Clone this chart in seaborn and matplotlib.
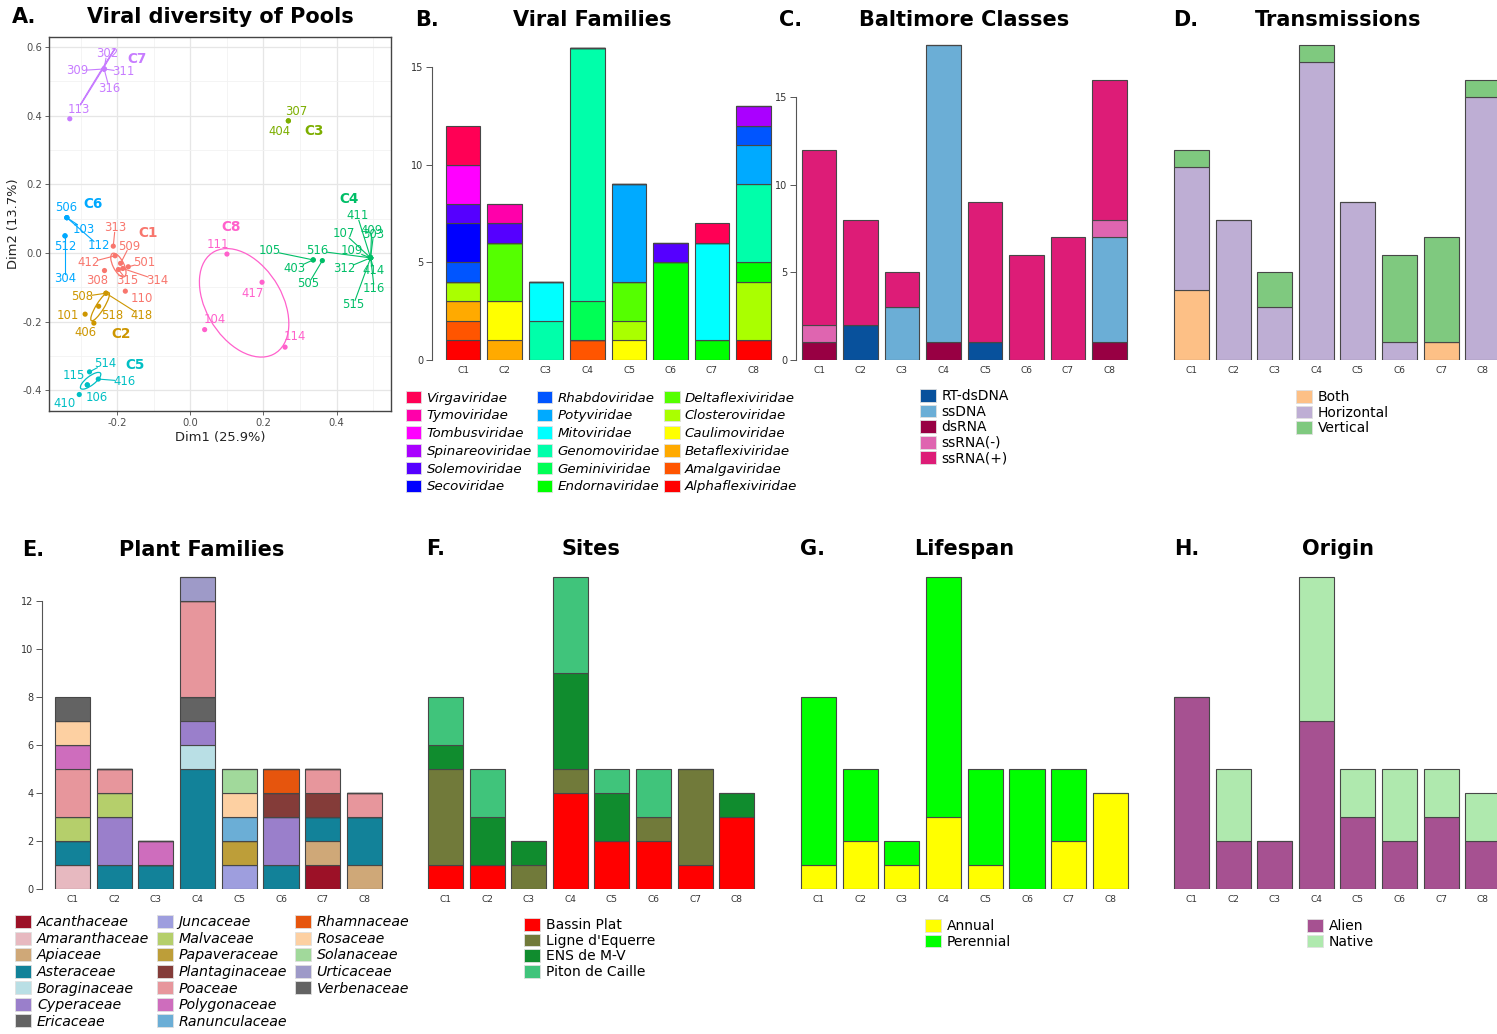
import matplotlib
matplotlib.use("Agg")
import matplotlib.pyplot as plt
from matplotlib.patches import Ellipse, Patch
import numpy as np
import pandas as pd
import seaborn as sns

W, H = 1497, 1034
plt.rcParams['font.family'] = ['DejaVu Sans']

clusters = ['C1', 'C2', 'C3', 'C4', 'C5', 'C6', 'C7', 'C8']
cluster_colors = ['#F8766D', '#CD9600', '#7CAE00', '#00BE67', '#00BFC4', '#00A9FF', '#C77CFF', '#FF61CC']

# ---- A. PCA of pools ----
pool_ids = ['313', '412', '308', '509', '501', '315', '314', '110',
            '508', '101', '518', '406', '418',
            '307', '404',
            '105', '403', '505', '516', '411', '107', '409', '303', '109', '312', '414', '116', '515',
            '514', '416', '115', '106', '410',
            '506', '103', '112', '512', '304',
            '302', '309', '311', '316', '113',
            '111', '417', '104', '114']
pool_cluster = ['C1'] * 8 + ['C2'] * 5 + ['C3'] * 2 + ['C4'] * 13 + ['C5'] * 5 + ['C6'] * 5 + ['C7'] * 5 + ['C8'] * 4
dim1 = [-0.211, -0.206, -0.235, -0.191, -0.170, -0.197, -0.185, -0.178,
        -0.231, -0.288, -0.251, -0.264, -0.231,
        0.268, 0.268,
        0.336, 0.336, 0.361, 0.493, 0.493, 0.493, 0.493, 0.493, 0.493, 0.493, 0.493, 0.493, 0.493,
        -0.276, -0.252, -0.282, -0.282, -0.304,
        -0.338, -0.338, -0.338, -0.343, -0.343,
        -0.236, -0.236, -0.236, -0.236, -0.330,
        0.100, 0.196, 0.039, 0.259]
dim2 = [0.020, -0.008, -0.051, -0.030, -0.040, -0.048, -0.045, -0.111,
        -0.117, -0.178, -0.155, -0.204, -0.117,
        0.385, 0.385,
        -0.020, -0.020, -0.022, -0.014, -0.014, -0.014, -0.014, -0.014, -0.014, -0.014, -0.014, -0.014, -0.014,
        -0.346, -0.367, -0.384, -0.384, -0.412,
        0.103, 0.103, 0.103, 0.050, 0.050,
        0.536, 0.536, 0.536, 0.536, 0.391,
        -0.003, -0.085, -0.223, -0.274]
label_x = [-0.206, -0.279, -0.256, -0.167, -0.127, -0.174, -0.090, -0.133,
           -0.295, -0.336, -0.213, -0.288, -0.133,
           0.289, 0.243,
           0.218, 0.284, 0.323, 0.348, 0.457, 0.421, 0.496, 0.501, 0.443, 0.420, 0.502, 0.503, 0.446,
           -0.232, -0.181, -0.320, -0.256, -0.343,
           -0.341, -0.291, -0.250, -0.343, -0.343,
           -0.229, -0.309, -0.183, -0.222, -0.305,
           0.074, 0.171, 0.066, 0.286]
label_y = [0.073, -0.028, -0.079, 0.020, -0.028, -0.079, -0.079, -0.132,
           -0.127, -0.183, -0.183, -0.232, -0.183,
           0.413, 0.354,
           0.006, -0.045, -0.090, 0.006, 0.108, 0.057, 0.067, 0.055, 0.006, -0.046, -0.050, -0.103, -0.151,
           -0.321, -0.373, -0.358, -0.421, -0.438,
           0.132, 0.070, 0.021, 0.020, -0.074,
           0.580, 0.531, 0.528, 0.480, 0.418,
           0.025, -0.117, -0.193, -0.244]
label_segment = [1, 1, 0, 1, 1, 1, 1, 0,
                 1, 0, 0, 0, 1,
                 0, 0,
                 1, 1, 1, 1, 1, 1, 1, 1, 1, 1, 1, 1, 1,
                 1, 1, 0, 0, 0,
                 0, 1, 1, 0, 1,
                 1, 1, 1, 1, 0,
                 0, 0, 0, 0]
clust_lab_x = [-0.117, -0.191, 0.338, 0.434, -0.151, -0.265, -0.145, 0.111]
clust_lab_y = [0.057, -0.236, 0.356, 0.156, -0.326, 0.143, 0.564, 0.077]
ell_cluster = ['C1', 'C2', 'C5', 'C7', 'C8']
ell_cx = [-0.197, -0.247, -0.273, -0.254, 0.147]
ell_cy = [-0.035, -0.156, -0.372, 0.513, -0.145]
ell_w = [0.030, 0.095, 0.070, 0.190, 0.340]
ell_h = [0.075, 0.022, 0.025, 0.002, 0.210]
ell_angle = [25, 60, 40, 60, -62]

# ---- B. Viral families (counts per cluster C1..C8) ----
virus_families = ['Alphaflexiviridae', 'Amalgaviridae', 'Betaflexiviridae', 'Caulimoviridae',
                  'Closteroviridae', 'Deltaflexiviridae', 'Endornaviridae', 'Geminiviridae',
                  'Genomoviridae', 'Mitoviridae', 'Potyviridae', 'Rhabdoviridae', 'Secoviridae',
                  'Solemoviridae', 'Spinareoviridae', 'Tombusviridae', 'Tymoviridae', 'Virgaviridae']
virus_colors = ['#FF0000', '#FF5500', '#FFAA00', '#FFFF00', '#AAFF00', '#55FF00', '#00FF00', '#00FF55',
                '#00FFAA', '#00FFFF', '#00AAFF', '#0055FF', '#0000FF', '#5500FF', '#AA00FF', '#FF00FF',
                '#FF00AA', '#FF0055']
virus_counts = {
    'Alphaflexiviridae': [1, 0, 0, 0, 0, 0, 0, 1],
    'Amalgaviridae': [1, 0, 0, 1, 0, 0, 0, 0],
    'Betaflexiviridae': [1, 1, 0, 0, 0, 0, 0, 0],
    'Caulimoviridae': [0, 2, 0, 0, 1, 0, 0, 0],
    'Closteroviridae': [1, 0, 0, 0, 1, 0, 0, 3],
    'Deltaflexiviridae': [0, 3, 0, 0, 2, 0, 0, 0],
    'Endornaviridae': [0, 0, 0, 0, 0, 5, 1, 1],
    'Geminiviridae': [0, 0, 0, 2, 0, 0, 0, 0],
    'Genomoviridae': [0, 0, 2, 13, 0, 0, 0, 4],
    'Mitoviridae': [0, 0, 2, 0, 0, 0, 5, 0],
    'Potyviridae': [0, 0, 0, 0, 5, 0, 0, 2],
    'Rhabdoviridae': [1, 0, 0, 0, 0, 0, 0, 1],
    'Secoviridae': [2, 0, 0, 0, 0, 0, 0, 0],
    'Solemoviridae': [1, 1, 0, 0, 0, 1, 0, 0],
    'Spinareoviridae': [0, 0, 0, 0, 0, 0, 0, 1],
    'Tombusviridae': [2, 0, 0, 0, 0, 0, 0, 0],
    'Tymoviridae': [0, 1, 0, 0, 0, 0, 0, 0],
    'Virgaviridae': [2, 0, 0, 0, 0, 0, 1, 0],
}

# ---- C. Baltimore classes ----
baltimore_legend = ['RT-dsDNA', 'ssDNA', 'dsRNA', 'ssRNA(-)', 'ssRNA(+)']
baltimore_stack = ['dsRNA', 'RT-dsDNA', 'ssDNA', 'ssRNA(-)', 'ssRNA(+)']
baltimore_colors = ['#08519C', '#6BAED6', '#980043', '#DF65B0', '#DD1C77']
baltimore_counts = {
    'RT-dsDNA': [0, 2, 0, 0, 1, 0, 0, 0],
    'ssDNA': [0, 0, 3, 17, 0, 0, 0, 6],
    'dsRNA': [1, 0, 0, 1, 0, 0, 0, 1],
    'ssRNA(-)': [1, 0, 0, 0, 0, 0, 0, 1],
    'ssRNA(+)': [10, 6, 2, 0, 8, 6, 7, 8],
}

# ---- D. Transmissions ----
transmission_types = ['Both', 'Horizontal', 'Vertical']
transmission_colors = ['#FDC086', '#BEAED4', '#7FC97F']
transmission_counts = {
    'Both': [4, 0, 0, 0, 0, 0, 1, 0],
    'Horizontal': [7, 8, 3, 17, 9, 1, 0, 15],
    'Vertical': [1, 0, 2, 1, 0, 5, 6, 1],
}

# ---- E. Plant families ----
plant_families = ['Acanthaceae', 'Amaranthaceae', 'Apiaceae', 'Asteraceae', 'Boraginaceae', 'Cyperaceae',
                  'Ericaceae', 'Juncaceae', 'Malvaceae', 'Papaveraceae', 'Plantaginaceae', 'Poaceae',
                  'Polygonaceae', 'Ranunculaceae', 'Rhamnaceae', 'Rosaceae', 'Solanaceae', 'Urticaceae',
                  'Verbenaceae']
plant_colors = ['#9C1127', '#E7B9C0', '#CFA878', '#128299', '#B9DFE5', '#9A7FCB', '#636363', '#9E9EDE',
                '#B5CF6B', '#BD9E39', '#843C39', '#E7969C', '#CE6DBD', '#6BAED6', '#E6550D', '#FDD0A2',
                '#A1D99B', '#9E9AC8', '#636363']
plant_counts = {
    'Acanthaceae': [0, 0, 0, 0, 0, 0, 1, 0],
    'Amaranthaceae': [1, 0, 0, 0, 0, 0, 0, 0],
    'Apiaceae': [0, 0, 0, 0, 0, 0, 1, 1],
    'Asteraceae': [1, 1, 1, 5, 0, 1, 1, 2],
    'Boraginaceae': [0, 0, 0, 1, 0, 0, 0, 0],
    'Cyperaceae': [0, 2, 0, 1, 0, 2, 0, 0],
    'Ericaceae': [0, 0, 0, 1, 0, 0, 0, 0],
    'Juncaceae': [0, 0, 0, 0, 1, 0, 0, 0],
    'Malvaceae': [1, 1, 0, 0, 0, 0, 0, 0],
    'Papaveraceae': [0, 0, 0, 0, 1, 0, 0, 0],
    'Plantaginaceae': [0, 0, 0, 0, 0, 1, 1, 0],
    'Poaceae': [2, 1, 0, 4, 0, 0, 1, 1],
    'Polygonaceae': [1, 0, 1, 0, 0, 0, 0, 0],
    'Ranunculaceae': [0, 0, 0, 0, 1, 0, 0, 0],
    'Rhamnaceae': [0, 0, 0, 0, 0, 1, 0, 0],
    'Rosaceae': [1, 0, 0, 0, 1, 0, 0, 0],
    'Solanaceae': [0, 0, 0, 0, 1, 0, 0, 0],
    'Urticaceae': [0, 0, 0, 1, 0, 0, 0, 0],
    'Verbenaceae': [1, 0, 0, 0, 0, 0, 0, 0],
}

# ---- F. Sites ----
sites = ['Bassin Plat', "Ligne d'Equerre", 'ENS de M-V', 'Piton de Caille']
site_colors = ['#FF0000', '#717A3A', '#108C2E', '#40C47B']
site_counts = {
    'Bassin Plat': [1, 1, 0, 4, 2, 2, 1, 3],
    "Ligne d'Equerre": [4, 0, 1, 1, 0, 1, 4, 0],
    'ENS de M-V': [1, 2, 1, 4, 2, 0, 0, 1],
    'Piton de Caille': [2, 2, 0, 4, 1, 2, 0, 0],
}

# ---- G. Lifespan ----
lifespans = ['Annual', 'Perennial']
lifespan_colors = ['#FFFF00', '#00FF00']
lifespan_counts = {
    'Annual': [1, 2, 1, 3, 1, 0, 2, 4],
    'Perennial': [7, 3, 1, 10, 4, 5, 3, 0],
}

# ---- H. Origin ----
origins = ['Alien', 'Native']
origin_colors = ['#A65191', '#AFE9AE']
origin_counts = {
    'Alien': [8, 2, 2, 7, 3, 2, 3, 2],
    'Native': [0, 3, 0, 6, 2, 3, 2, 2],
}

fig = plt.figure(figsize=(W / 100, H / 100), dpi=100)


def fx(px):
    return px / W


def fy(py):
    return 1 - py / H


def stacked_panel(counts, stack_order, colors, cx0, pitch, y0, unit, ymax, axis_x=None, yticks=None):
    xlo = 0.4 if axis_x is None else 1 + (axis_x - cx0) / pitch
    xhi = 8.6
    left = cx0 + (xlo - 1) * pitch
    ax = fig.add_axes([fx(left), fy(y0), (xhi - xlo) * pitch / W, ymax * unit / H])
    rows = [(i + 1, g, v) for g in stack_order for i, v in enumerate(counts[g]) if v > 0]
    df = pd.DataFrame(rows, columns=['cluster', 'group', 'n'])
    # seaborn stacks the last hue level at the bottom
    sns.histplot(data=df, x='cluster', hue='group', weights='n', hue_order=stack_order[::-1],
                 palette=colors, multiple='stack', discrete=True, shrink=0.84, alpha=1,
                 edgecolor='#474747', linewidth=0.8, legend=False, ax=ax)
    ax.set_xlim(xlo, xhi)
    ax.set_ylim(0, ymax)
    ax.set_xlabel('')
    ax.set_ylabel('')
    ax.set_xticks(range(1, 9))
    ax.set_xticklabels(clusters, fontsize=6.5, color='#333333')
    ax.tick_params(axis='x', length=0, pad=4)
    for s in ['top', 'right', 'bottom']:
        ax.spines[s].set_visible(False)
    if yticks is None:
        ax.spines['left'].set_visible(False)
        ax.set_yticks([])
    else:
        ax.set_yticks(yticks)
        ax.set_yticklabels([str(t) for t in yticks], fontsize=7, color='#333333')
        ax.spines['left'].set_bounds(yticks[0], yticks[-1])
        ax.spines['left'].set_color('#555555')
        ax.spines['left'].set_linewidth(0.8)
        ax.tick_params(axis='y', length=4, width=0.7, color='#555555', pad=2)
    ax.patch.set_alpha(0)
    return ax


def add_legend(names, colors, x, y, italic=False, ncol=1, fs=10.0, spacing=0.1, colspace=0.45):
    handles = [Patch(facecolor=colors[n], edgecolor='#e0e0e0', linewidth=0.6, label=n) for n in names]
    while ncol > 1 and len(handles) % ncol:
        handles.append(Patch(facecolor='none', edgecolor='none', label=''))
    fig.legend(handles=handles, loc='upper left', bbox_to_anchor=(fx(x), fy(y)), ncol=ncol,
               frameon=False, borderpad=0, borderaxespad=0, handlelength=1.15, handleheight=1.05,
               handletextpad=0.4, labelspacing=spacing, columnspacing=colspace,
               prop={'size': fs, 'style': 'italic' if italic else 'normal'})


def title(letter, text, lx, cx, cy):
    fig.text(fx(lx), fy(cy), letter, fontsize=15, fontweight='bold', ha='left', va='center')
    fig.text(fx(cx), fy(cy), text, fontsize=15, fontweight='bold', ha='center', va='center')


# ---------- Panel A ----------
axA = fig.add_axes([fx(49.3), fy(411), (390.7 - 49.3) / W, (411 - 36.7) / H])
palA = dict(zip(clusters, cluster_colors))
dfA = pd.DataFrame({'pool': pool_ids, 'cluster': pool_cluster, 'Dim1': dim1, 'Dim2': dim2,
                    'lx': label_x, 'ly': label_y, 'seg': label_segment})
axA.set_xlim(-0.386, 0.548)
axA.set_ylim(-0.460, 0.630)
axA.set_xticks([-0.2, 0.0, 0.2, 0.4])
axA.set_yticks([-0.4, -0.2, 0.0, 0.2, 0.4, 0.6])
axA.set_xticks(np.arange(-0.3, 0.55, 0.2), minor=True)
axA.set_yticks(np.arange(-0.3, 0.65, 0.2), minor=True)
axA.grid(True, which='major', color='#e6e6e6', lw=0.9, zorder=0)
axA.grid(True, which='minor', color='#f2f2f2', lw=0.6, zorder=0)
axA.set_axisbelow(True)
for s in axA.spines.values():
    s.set_color('#444444')
    s.set_linewidth(1.0)
axA.tick_params(axis='both', which='major', labelsize=7.2, labelcolor='#4d4d4d', length=3, width=0.6,
                color='#4d4d4d', pad=2)
axA.tick_params(axis='both', which='minor', length=0)
axA.set_xticklabels(['-0.2', '0.0', '0.2', '0.4'])
axA.set_yticklabels(['-0.4', '-0.2', '0.0', '0.2', '0.4', '0.6'])

for c, cx, cy, w, h, a in zip(ell_cluster, ell_cx, ell_cy, ell_w, ell_h, ell_angle):
    axA.add_patch(Ellipse((cx, cy), w, h, angle=a, fill=False, edgecolor=palA[c], lw=0.9, zorder=2))

for _, r in dfA.iterrows():
    col = palA[r['cluster']]
    if r['seg']:
        dx, dy = r['lx'] - r['Dim1'], r['ly'] - r['Dim2']
        t = min(0.026 / abs(dx) if dx else np.inf, 0.013 / abs(dy) if dy else np.inf)
        u = max(0.0, 1 - t)
        axA.plot([r['Dim1'], r['Dim1'] + u * dx], [r['Dim2'], r['Dim2'] + u * dy], color=col, lw=0.8, zorder=2)
    axA.text(r['lx'], r['ly'], r['pool'], color=col, fontsize=8.4, ha='center', va='center', zorder=4)

sns.scatterplot(data=dfA, x='Dim1', y='Dim2', hue='cluster', palette=palA, s=14, linewidth=0,
                legend=False, ax=axA, zorder=3)
for c, x, y in zip(clusters, clust_lab_x, clust_lab_y):
    axA.text(x, y, c, color=palA[c], fontsize=9.8, fontweight='bold', ha='center', va='center', zorder=4)
axA.set_xlabel('Dim1 (25.9%)', fontsize=9.4, color='#222222', labelpad=2)
axA.set_ylabel('Dim2 (13.7%)', fontsize=9.4, color='#222222', labelpad=2)
title('A.', 'Viral diversity of Pools', 12, 220, 17)

# ---------- Panel B ----------
stacked_panel(virus_counts, virus_families, dict(zip(virus_families, virus_colors)),
              463, 41.5, 360, 19.53, 17, axis_x=432, yticks=[0, 5, 10, 15])
title('B.', 'Viral Families', 415, 592, 20)
add_legend(virus_families[::-1], dict(zip(virus_families, virus_colors)), 406, 391, italic=True, ncol=3,
           fs=9.6, spacing=0.3, colspace=0.35)

# ---------- Panel C ----------
stacked_panel(baltimore_counts, baltimore_stack, dict(zip(baltimore_legend, baltimore_colors)),
              819, 41.5, 360, 17.51, 18.5, axis_x=796, yticks=[0, 5, 10, 15])
title('C.', 'Baltimore Classes', 779, 964, 20)
add_legend(baltimore_legend, dict(zip(baltimore_legend, baltimore_colors)), 920, 389)

# ---------- Panel D ----------
stacked_panel(transmission_counts, transmission_types, dict(zip(transmission_types, transmission_colors)),
              1191.5, 41.6, 360, 17.51, 18.5)
title('D.', 'Transmissions', 1173, 1338, 20)
add_legend(transmission_types, dict(zip(transmission_types, transmission_colors)), 1296, 390)

# ---------- Panel E ----------
stacked_panel(plant_counts, plant_families, dict(zip(plant_families, plant_colors)),
              72.5, 41.7, 889, 24.03, 13.5, axis_x=41.7, yticks=[0, 2, 4, 6, 8, 10, 12])
title('E.', 'Plant Families', 22, 202, 550)
add_legend(plant_families, dict(zip(plant_families, plant_colors)), 15, 915, italic=True, ncol=3,
           fs=10.2, spacing=0.15, colspace=0.52)

# ---------- Panel F ----------
stacked_panel(site_counts, sites, dict(zip(sites, site_colors)), 445.5, 41.6, 889, 24.03, 13.5)
title('F.', 'Sites', 426, 591, 549)
add_legend(sites, dict(zip(sites, site_colors)), 524, 918)

# ---------- Panel G ----------
stacked_panel(lifespan_counts, lifespans, dict(zip(lifespans, lifespan_colors)), 818.5, 41.7, 889, 24.03, 13.5)
title('G.', 'Lifespan', 800, 964, 549)
add_legend(lifespans, dict(zip(lifespans, lifespan_colors)), 925, 919)

# ---------- Panel H ----------
stacked_panel(origin_counts, origins, dict(zip(origins, origin_colors)), 1191.5, 41.6, 889, 24.03, 13.5)
title('H.', 'Origin', 1174, 1338, 549)
add_legend(origins, dict(zip(origins, origin_colors)), 1307, 919)

fig.savefig('out.png', dpi=100)
